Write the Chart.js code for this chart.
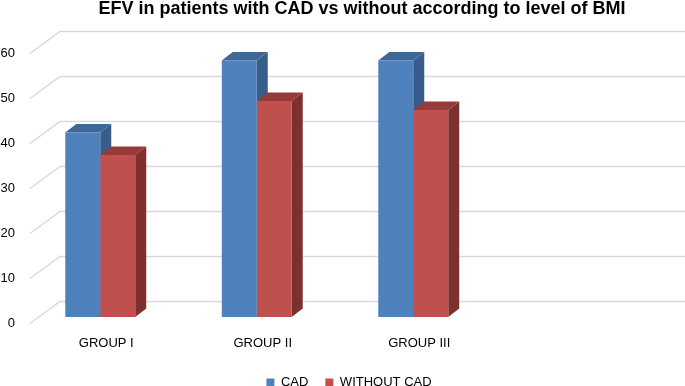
<!DOCTYPE html>
<html>
<head>
<meta charset="utf-8">
<script src="https://cdn.jsdelivr.net/npm/chart.js@4.4.1/dist/chart.umd.min.js"></script>
<style>
    html, body { margin: 0; padding: 0; background: #ffffff; overflow: hidden; }
    #wrap { position: relative; width: 685px; height: 386px; }
</style>
</head>
<body>
<div id="wrap"><canvas id="chart-efv"></canvas></div>
<script>
// Data
const groupLabels = ['GROUP I', 'GROUP II', 'GROUP III', ''];
const cadValues = [41, 57, 57, null];
const withoutCadValues = [36, 48, 46, null];
const seriesNames = ['CAD', 'WITHOUT CAD'];
const yTickValues = [0, 10, 20, 30, 40, 50, 60];

const titleText = 'EFV in patients with CAD vs without according to level of BMI';
const fontFamily = '"Liberation Sans", Arial, sans-serif';

// warna sisi 3D (atas & samping) per dataset
const faceColors = [
    { top: '#3F6796', side: '#385D8A' },
    { top: '#963B39', side: '#7E302E' }
];
const depthX = 11;
const depthY = 8.5;

// Plugin: dinding belakang + grid miring + sisi 3D batang
const backWall = {
    id: 'backWall',
    afterLayout(chart) {
        // geser legenda sedikit ke kanan seperti aslinya
        chart.legend.left += 25;
        chart.legend.right += 25;
    },
    beforeDatasetsDraw(chart) {
        const ctx = chart.ctx;
        const yScale = chart.scales.y;
        ctx.save();
        ctx.strokeStyle = '#d9d9d9';
        ctx.lineWidth = 1.5;
        yTickValues.forEach(v => {
            const py = yScale.getPixelForValue(v);
            ctx.beginPath();
            ctx.moveTo(30, py + 6.5);
            ctx.lineTo(60, py - 15.5);
            ctx.lineTo(chart.width, py - 15.5);
            ctx.stroke();
        });

        // sisi atas dan samping dari setiap batang
        chart.data.datasets.forEach((ds, i) => {
            const meta = chart.getDatasetMeta(i);
            meta.data.forEach((bar, j) => {
                if (ds.data[j] == null) return;
                const props = bar.getProps(['x', 'y', 'base', 'width'], true);
                const left = props.x - props.width / 2;
                const right = props.x + props.width / 2;
                const top = props.y;
                const base = props.base;

                ctx.fillStyle = faceColors[i].side;
                ctx.beginPath();
                ctx.moveTo(right, top);
                ctx.lineTo(right + depthX, top - depthY);
                ctx.lineTo(right + depthX, base - depthY);
                ctx.lineTo(right, base);
                ctx.closePath();
                ctx.fill();

                ctx.fillStyle = faceColors[i].top;
                ctx.beginPath();
                ctx.moveTo(left, top);
                ctx.lineTo(left + depthX, top - depthY);
                ctx.lineTo(right + depthX, top - depthY);
                ctx.lineTo(right, top);
                ctx.closePath();
                ctx.fill();
            });
        });
        ctx.restore();
    },
    afterDraw(chart) {
        // judul digambar manual supaya posisinya sama
        const ctx = chart.ctx;
        ctx.save();
        ctx.fillStyle = '#000000';
        ctx.font = 'bold 18px ' + fontFamily;
        ctx.textAlign = 'center';
        ctx.textBaseline = 'middle';
        ctx.fillText(titleText, 362, 9);
        ctx.restore();
    }
};

function initializeChart() {
    new Chart(document.getElementById('chart-efv'), {
        type: 'bar',
        data: {
            labels: groupLabels,
            datasets: [
                {
                    label: seriesNames[0],
                    data: cadValues,
                    backgroundColor: '#4F81BD',
                    borderWidth: 0
                },
                {
                    label: seriesNames[1],
                    data: withoutCadValues,
                    backgroundColor: '#C0504D',
                    borderWidth: 0
                }
            ]
        },
        options: {
            responsive: true,
            maintainAspectRatio: false,
            animation: false,
            layout: {
                padding: { top: 47, right: 37, left: 0, bottom: -13 }
            },
            datasets: {
                bar: {
                    categoryPercentage: 0.447,
                    barPercentage: 1
                }
            },
            scales: {
                x: {
                    afterFit(scale) {
                        scale.height = 42;
                    },
                    grid: { display: false, drawTicks: false },
                    border: { display: false },
                    ticks: {
                        color: '#000000',
                        font: { family: fontFamily, size: 13 },
                        padding: 19,
                        labelOffset: 6,
                        maxRotation: 0
                    }
                },
                y: {
                    min: 0,
                    max: 60,
                    afterFit(scale) {
                        scale.width = 22;
                    },
                    afterBuildTicks(scale) {
                        scale.ticks = yTickValues.map(v => ({ value: v }));
                    },
                    grid: { display: false, drawTicks: false },
                    border: { display: false },
                    ticks: {
                        color: '#000000',
                        font: { family: fontFamily, size: 13 },
                        padding: 7,
                        labelOffset: 6
                    }
                }
            },
            plugins: {
                legend: {
                    position: 'bottom',
                    labels: {
                        color: '#000000',
                        font: { family: fontFamily, size: 13 },
                        boxWidth: 8,
                        boxHeight: 8,
                        padding: 17
                    }
                },
                tooltip: { enabled: false }
            }
        },
        plugins: [backWall]
    });
}

window.addEventListener('load', () => {
    initializeChart();
});
</script>
</body>
</html>
